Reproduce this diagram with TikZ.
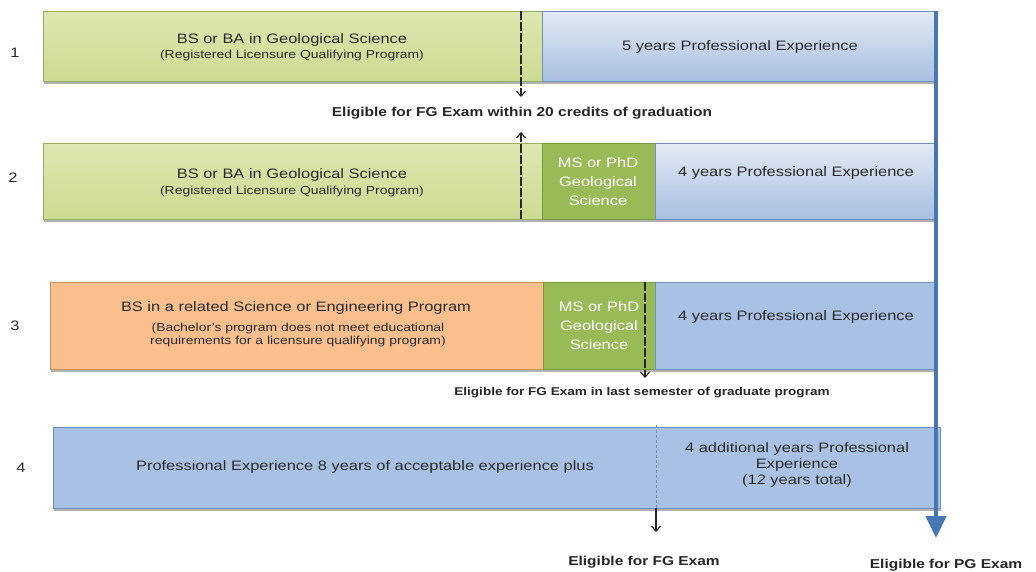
\documentclass[tikz,border=0pt]{standalone}
\usepackage{fontspec}
\setmainfont[FakeStretch=1.2]{Liberation Sans}
\usetikzlibrary{arrows.meta,shadows}
\definecolor{gtop}{HTML}{DCE7B0}
\definecolor{gbot}{HTML}{CCDB91}
\definecolor{gborder}{HTML}{98AE63}
\definecolor{btop}{HTML}{E3EAF4}
\definecolor{bbot}{HTML}{A7BFE1}
\definecolor{bflat}{HTML}{A8C1E4}
\definecolor{bborder}{HTML}{6F8FBF}
\definecolor{orangef}{HTML}{FBBF8E}
\definecolor{oborder}{HTML}{C8925E}
\definecolor{msgreen}{HTML}{98BA57}
\definecolor{msborder}{HTML}{7A9A3E}
\definecolor{txt}{HTML}{2A2A2A}
\definecolor{pgblue}{HTML}{4477B4}
\begin{document}
\begin{tikzpicture}[x=1pt,y=-1pt,
  boxbase/.style={draw, line width=0.7pt, inner sep=0pt, anchor=north west,
    drop shadow={shadow xshift=1pt,shadow yshift=-2.5pt,fill=black,opacity=0.3}},
  gbox/.style={boxbase, draw=gborder, top color=gtop, bottom color=gbot},
  bgbox/.style={boxbase, draw=bborder, top color=btop, bottom color=bbot},
  bfbox/.style={boxbase, draw=bborder, fill=bflat},
  obox/.style={boxbase, draw=oborder, fill=orangef},
  msbox/.style={boxbase, draw=msborder, fill=msgreen},
  maintext/.style={inner sep=0pt, text=txt, font=\fontsize{13.7}{16}\selectfont, align=center},
  subtext/.style={inner sep=0pt, text=txt, font=\fontsize{11.6}{12.5}\selectfont, align=center},
  mstext/.style={inner sep=0pt, text=white, font=\fontsize{13.7}{19}\selectfont, align=center},
  numtext/.style={inner sep=0pt, text=txt, font=\fontsize{13.7}{16}\selectfont},
  lbl/.style={inner sep=0pt, text=black!85, font=\bfseries\fontsize{12.9}{15}\selectfont},
  lblsmall/.style={inner sep=0pt, text=black!85, font=\bfseries\fontsize{11.3}{13}\selectfont},
  dasharrow/.style={draw=black!85, line width=1.2pt, dash pattern=on 9pt off 2pt, -{Straight Barb[length=5pt,width=9pt]}},
  solidarrow/.style={draw=black!85, line width=1.2pt, -{Straight Barb[length=5pt,width=9pt]}},
  pgarrow/.style={draw=pgblue, line width=4pt, -{Triangle[width=20pt,length=22pt]}}
]
\useasboundingbox (0,0) rectangle (1036,571);
\fill[white] (0,0) rectangle (1036,571);

% Row 1
\node[gbox, minimum width=499pt, minimum height=70pt] (g1) at (43,11) {};
\node[bgbox, minimum width=393pt, minimum height=70pt] (b1) at (542,11) {};
% Row 2
\node[gbox, minimum width=499pt, minimum height=76pt] (g2) at (43,143) {};
\node[msbox, minimum width=113pt, minimum height=76pt] (m2) at (542,143) {};
\node[bgbox, minimum width=280pt, minimum height=76pt] (b2) at (655,143) {};
% Row 3
\node[obox, minimum width=493pt, minimum height=87pt] (o3) at (50,282) {};
\node[msbox, minimum width=112pt, minimum height=87pt] (m3) at (543,282) {};
\node[bfbox, minimum width=282pt, minimum height=87pt] (b3) at (655,282) {};
% Row 4
\node[bfbox, minimum width=887pt, minimum height=81pt] (b4) at (53,427) {};

% Numbers
\node[numtext] (n1) at (15,53) {1};
\node[numtext] (n2) at (13,178) {2};
\node[numtext] (n3) at (15,326) {3};
\node[numtext] (n4) at (21,468) {4};

% Texts row 1
\node[maintext] (t1a) at (292,40) {BS or BA in Geological Science};
\node[subtext] (t1b) at (292,55) {(Registered Licensure Qualifying Program)};
\node[maintext] (t1c) at (740,47) {5 years Professional Experience};
% Texts row 2
\node[maintext] (t2a) at (292,175) {BS or BA in Geological Science};
\node[subtext] (t2b) at (292,191) {(Registered Licensure Qualifying Program)};
\node[mstext] (t2m) at (598,182) {MS or PhD\\Geological\\Science};
\node[maintext] (t2c) at (796,173) {4 years Professional Experience};
% Texts row 3
\node[maintext] (t3a) at (296,308) {BS in a related Science or Engineering Program};
\node[subtext] (t3b) at (298,335) {(Bachelor's program does not meet educational\\requirements for a licensure qualifying program)};
\node[mstext] (t3m) at (599,326) {MS or PhD\\Geological\\Science};
\node[maintext] (t3c) at (796,317) {4 years Professional Experience};
% Texts row 4
\node[maintext] (t4a) at (365,467) {Professional Experience 8 years of acceptable experience plus};
\node[maintext] (t4b) at (797,465) {4 additional years Professional\\Experience\\(12 years total)};

% Labels
\node[lbl] (l1) at (522,113) {Eligible for FG Exam within 20 credits of graduation};
\node[lblsmall] (l3) at (642,393) {Eligible for FG Exam in last semester of graduate program};
\node[lbl] (l4) at (644,562) {Eligible for FG Exam};
\node[lbl] (l5) at (946,565) {Eligible for PG Exam};

% Arrows
\coordinate (a1s) at (521,11);
\coordinate (a1e) at (521,97);
\draw[dasharrow] (a1s) -- (a1e);
\coordinate (a2s) at (521,219);
\coordinate (a2e) at (521,132);
\draw[dasharrow] (a2s) -- (a2e);
\coordinate (a3s) at (645,282);
\coordinate (a3e) at (645,378);
\draw[dasharrow] (a3s) -- (a3e);
\coordinate (a4s) at (656,425);
\coordinate (a4m) at (656,508);
\coordinate (a4e) at (656,532);
\draw[draw=bborder, line width=0.9pt, dash pattern=on 3pt off 2pt] (a4s) -- (a4m);
\draw[solidarrow] (a4m) -- (a4e);
\coordinate (pgs) at (936,11);
\coordinate (pge) at (936,538);
\draw[pgarrow] (pgs) -- (pge);
\end{tikzpicture}
\end{document}
